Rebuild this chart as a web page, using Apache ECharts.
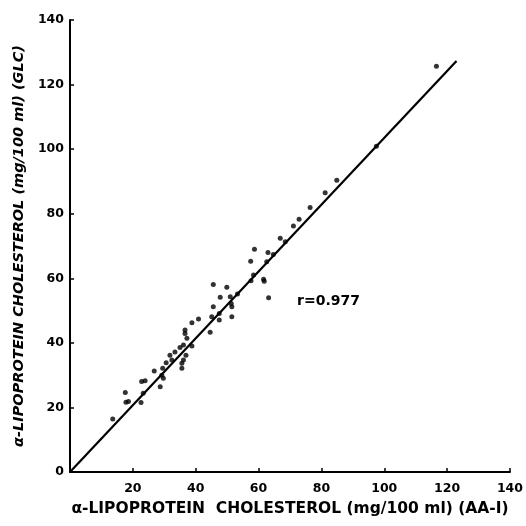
<!DOCTYPE html>
<html>
<head>
<meta charset="utf-8">
<script src="https://cdn.jsdelivr.net/npm/echarts@6/dist/echarts.min.js"></script>
<style>
  html, body { margin: 0; padding: 0; background: #fff; }
  #chart { width: 526px; height: 526px; }
</style>
</head>
<body>
<div id="chart"></div>
<script>
// AA-I values (x) and GLC values (y)
const aaValues = [
  13.6, 17.6, 17.8, 18.6, 22.6, 23.3, 22.8, 23.9, 26.8, 28.7, 29.2, 30.6,
  31.8, 32.4, 29.5, 29.7, 33.4, 35.0, 36.1, 38.8, 36.9, 36.1, 35.6, 35.6,
  37.2, 36.6, 36.6, 38.8, 40.9, 44.6, 45.1, 47.5, 47.5, 45.6, 45.6, 49.9,
  47.8, 51.0, 53.3, 51.3, 51.5, 51.5, 57.6, 57.5, 61.8, 63.2,
  84.9, 81.2, 76.4, 72.9, 71.1, 66.9, 68.5, 58.7, 63.0, 64.7, 62.6, 58.4,
  61.6, 116.6, 97.5
];
const glcValues = [
  16.4, 24.6, 21.6, 21.8, 21.5, 24.4, 28.0, 28.3, 31.3, 26.4, 30.0, 33.8,
  36.2, 34.7, 32.1, 29.0, 37.2, 38.6, 39.3, 39.0, 36.2, 34.7, 33.7, 32.1,
  41.4, 42.9, 44.0, 46.2, 47.4, 43.3, 48.1, 49.1, 47.1, 51.2, 58.1, 57.2,
  54.1, 54.3, 55.1, 52.2, 51.2, 48.1, 59.2, 65.3, 59.1, 54.0,
  90.4, 86.5, 81.9, 78.3, 76.2, 72.4, 71.3, 69.0, 68.0, 67.4, 65.1, 61.0,
  59.7, 125.7, 100.9
];
// regression line end points
const fitX = [0, 123];
const fitY = [0, 127.3];
const rText = "r=0.977";

const points = aaValues.map((x, i) => [x, glcValues[i]]);
const fitLine = fitX.map((x, i) => [x, fitY[i]]);

const labelFont = { color: "#000", fontFamily: "DejaVu Sans", fontWeight: "bold", fontSize: 12.5 };

const myChart = echarts.init(document.getElementById("chart"));
const option = {
  animation: false,
  grid: { left: 70, right: 16, top: 20, bottom: 54 },
  xAxis: {
    type: "value",
    min: 0,
    max: 140,
    interval: 20,
    name: "α-LIPOPROTEIN  CHOLESTEROL (mg/100 ml) (AA-I)",
    nameLocation: "middle",
    nameGap: 29,
    nameTextStyle: { color: "#000", fontFamily: "DejaVu Sans", fontWeight: "bold", fontSize: 15.5 },
    axisLine: { lineStyle: { color: "#000", width: 2 } },
    axisTick: { inside: true, length: 4, lineStyle: { color: "#000", width: 1.5 } },
    axisLabel: { ...labelFont, margin: 10, showMinLabel: false },
    splitLine: { show: false }
  },
  yAxis: {
    type: "value",
    min: 0,
    max: 140,
    interval: 20,
    name: "α-LIPOPROTEIN CHOLESTEROL (mg/100 ml) (GLC)",
    nameLocation: "middle",
    nameGap: 39,
    nameTextStyle: { color: "#000", fontFamily: "DejaVu Sans", fontWeight: "bold", fontStyle: "italic", fontSize: 14.5 },
    axisLine: { show: true, lineStyle: { color: "#000", width: 2 } },
    axisTick: { show: true, inside: true, length: 4, lineStyle: { color: "#000", width: 1.5 } },
    axisLabel: { ...labelFont, margin: 6 },
    splitLine: { show: false }
  },
  series: [
    {
      type: "line",
      data: fitLine,
      showSymbol: false,
      lineStyle: { color: "#000", width: 2.2 },
      z: 2
    },
    {
      type: "scatter",
      data: points,
      symbolSize: 5,
      itemStyle: { color: "#000" },
      z: 3
    }
  ],
  graphic: [
    {
      type: "text",
      left: 297,
      top: 294,
      style: { text: rText, fill: "#000", font: "bold 14px 'DejaVu Sans'" }
    }
  ]
};
myChart.setOption(option);
</script>
</body>
</html>
